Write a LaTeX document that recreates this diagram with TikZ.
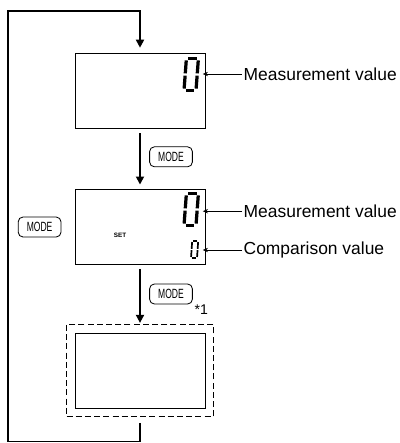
\documentclass[tikz,border=0pt]{standalone}
\usepackage{fontspec}
\setmainfont{Liberation Sans}
\usetikzlibrary{arrows.meta, positioning, fit}

\newcommand{\modekey}{\scalebox{0.64}[1]{MODE}}

\tikzset{
    segzero/.pic={
        \begin{scope}[xslant=0.1]
        \draw (0.15,2) -- (0.85,2);
        \draw (0,1.88) -- (0,1.07);
        \draw (1,1.88) -- (1,1.07);
        \draw (0,0.93) -- (0,0.12);
        \draw (1,0.93) -- (1,0.12);
        \draw (0.15,0) -- (0.85,0);
        \end{scope}
    }
}

\begin{document}
\begin{tikzpicture}[
    lcd/.style={rectangle, draw, line width=0.7pt, minimum width=3.25cm, minimum height=1.875cm, inner sep=0pt},
    key/.style={rectangle, draw, rounded corners=1.2mm, line width=0.6pt, minimum width=1.07cm, minimum height=0.5cm, inner sep=0pt, font=\fontsize{9.5}{11}\selectfont},
    frame/.style={draw, line width=0.6pt, dash pattern=on 0.15cm off 0.08cm, inner sep=0.2cm},
    flow/.style={-{Triangle[length=2mm, width=2mm]}, line width=1.2pt},
    callout/.style={-{Stealth[length=1.3mm, width=1.1mm]}, line width=0.5pt},
    lbl/.style={anchor=west, inner sep=1pt, font=\fontsize{12.4}{14}\selectfont},
    bigdigit/.style={xscale=0.3, yscale=0.4, line width=2.3pt},
    smalldigit/.style={xscale=0.15, yscale=0.2125, line width=1.2pt}
]
\useasboundingbox (0,0) rectangle (9.975,-11.075);

% ── Display 1: measurement ──
\node[lcd] (box1) at (3.5,-2.2625) {};
\pic[bigdigit] at (4.6,-2.2625) {segzero};
\coordinate (dig1) at (5.07,-1.85);
\node[lbl] (meas1) at (6.05,-1.85) {Measurement value};
\draw[callout] (meas1) -- (dig1);

% ── Display 2: setting ──
\node[lcd] (box2) at (3.5,-5.6625) {};
\pic[bigdigit] at (4.6,-5.6375) {segzero};
\pic[smalldigit] at (4.775,-6.45) {segzero};
\node[font=\fontsize{4.5}{5}\selectfont\bfseries] (set) at (3.0,-5.875) {SET};
\coordinate (dig2) at (5.07,-5.28);
\coordinate (dig3) at (5.07,-6.25);
\node[lbl] (meas2) at (6.05,-5.28) {Measurement value};
\node[lbl] (comp)  at (6.05,-6.25) {Comparison value};
\draw[callout] (meas2) -- (dig2);
\draw[callout] (comp) -- (dig3);

% ── Display 3 (dashed) ──
\node[lcd] (box3) at (3.5,-9.2625) {};
\node[frame, fit=(box3)] (frame3) {};
\node[font=\fontsize{10}{11}\selectfont] (note) at (5.03,-7.75) {*1};

% ── MODE keys ──
\node[key] (key1) at (4.275,-3.92) {\modekey};
\node[key] (key2) at (4.275,-7.35) {\modekey};
\node[key] (key3) at (0.99,-5.675) {\modekey};

% ── Flow ──
\coordinate (lb) at (0.2,-11.04);
\coordinate (lt) at (0.2,-0.275);
\draw[flow, shorten <=0.125cm, shorten >=0.1cm] (box1) -- (box2);
\draw[flow, shorten <=0.125cm, shorten >=0.03cm] (box2) -- (frame3);
\draw[flow, shorten <=0.15cm, shorten >=0.12cm] (frame3.south) |- (lb) -- (lt) -| (box1.north);

\end{tikzpicture}
\end{document}
